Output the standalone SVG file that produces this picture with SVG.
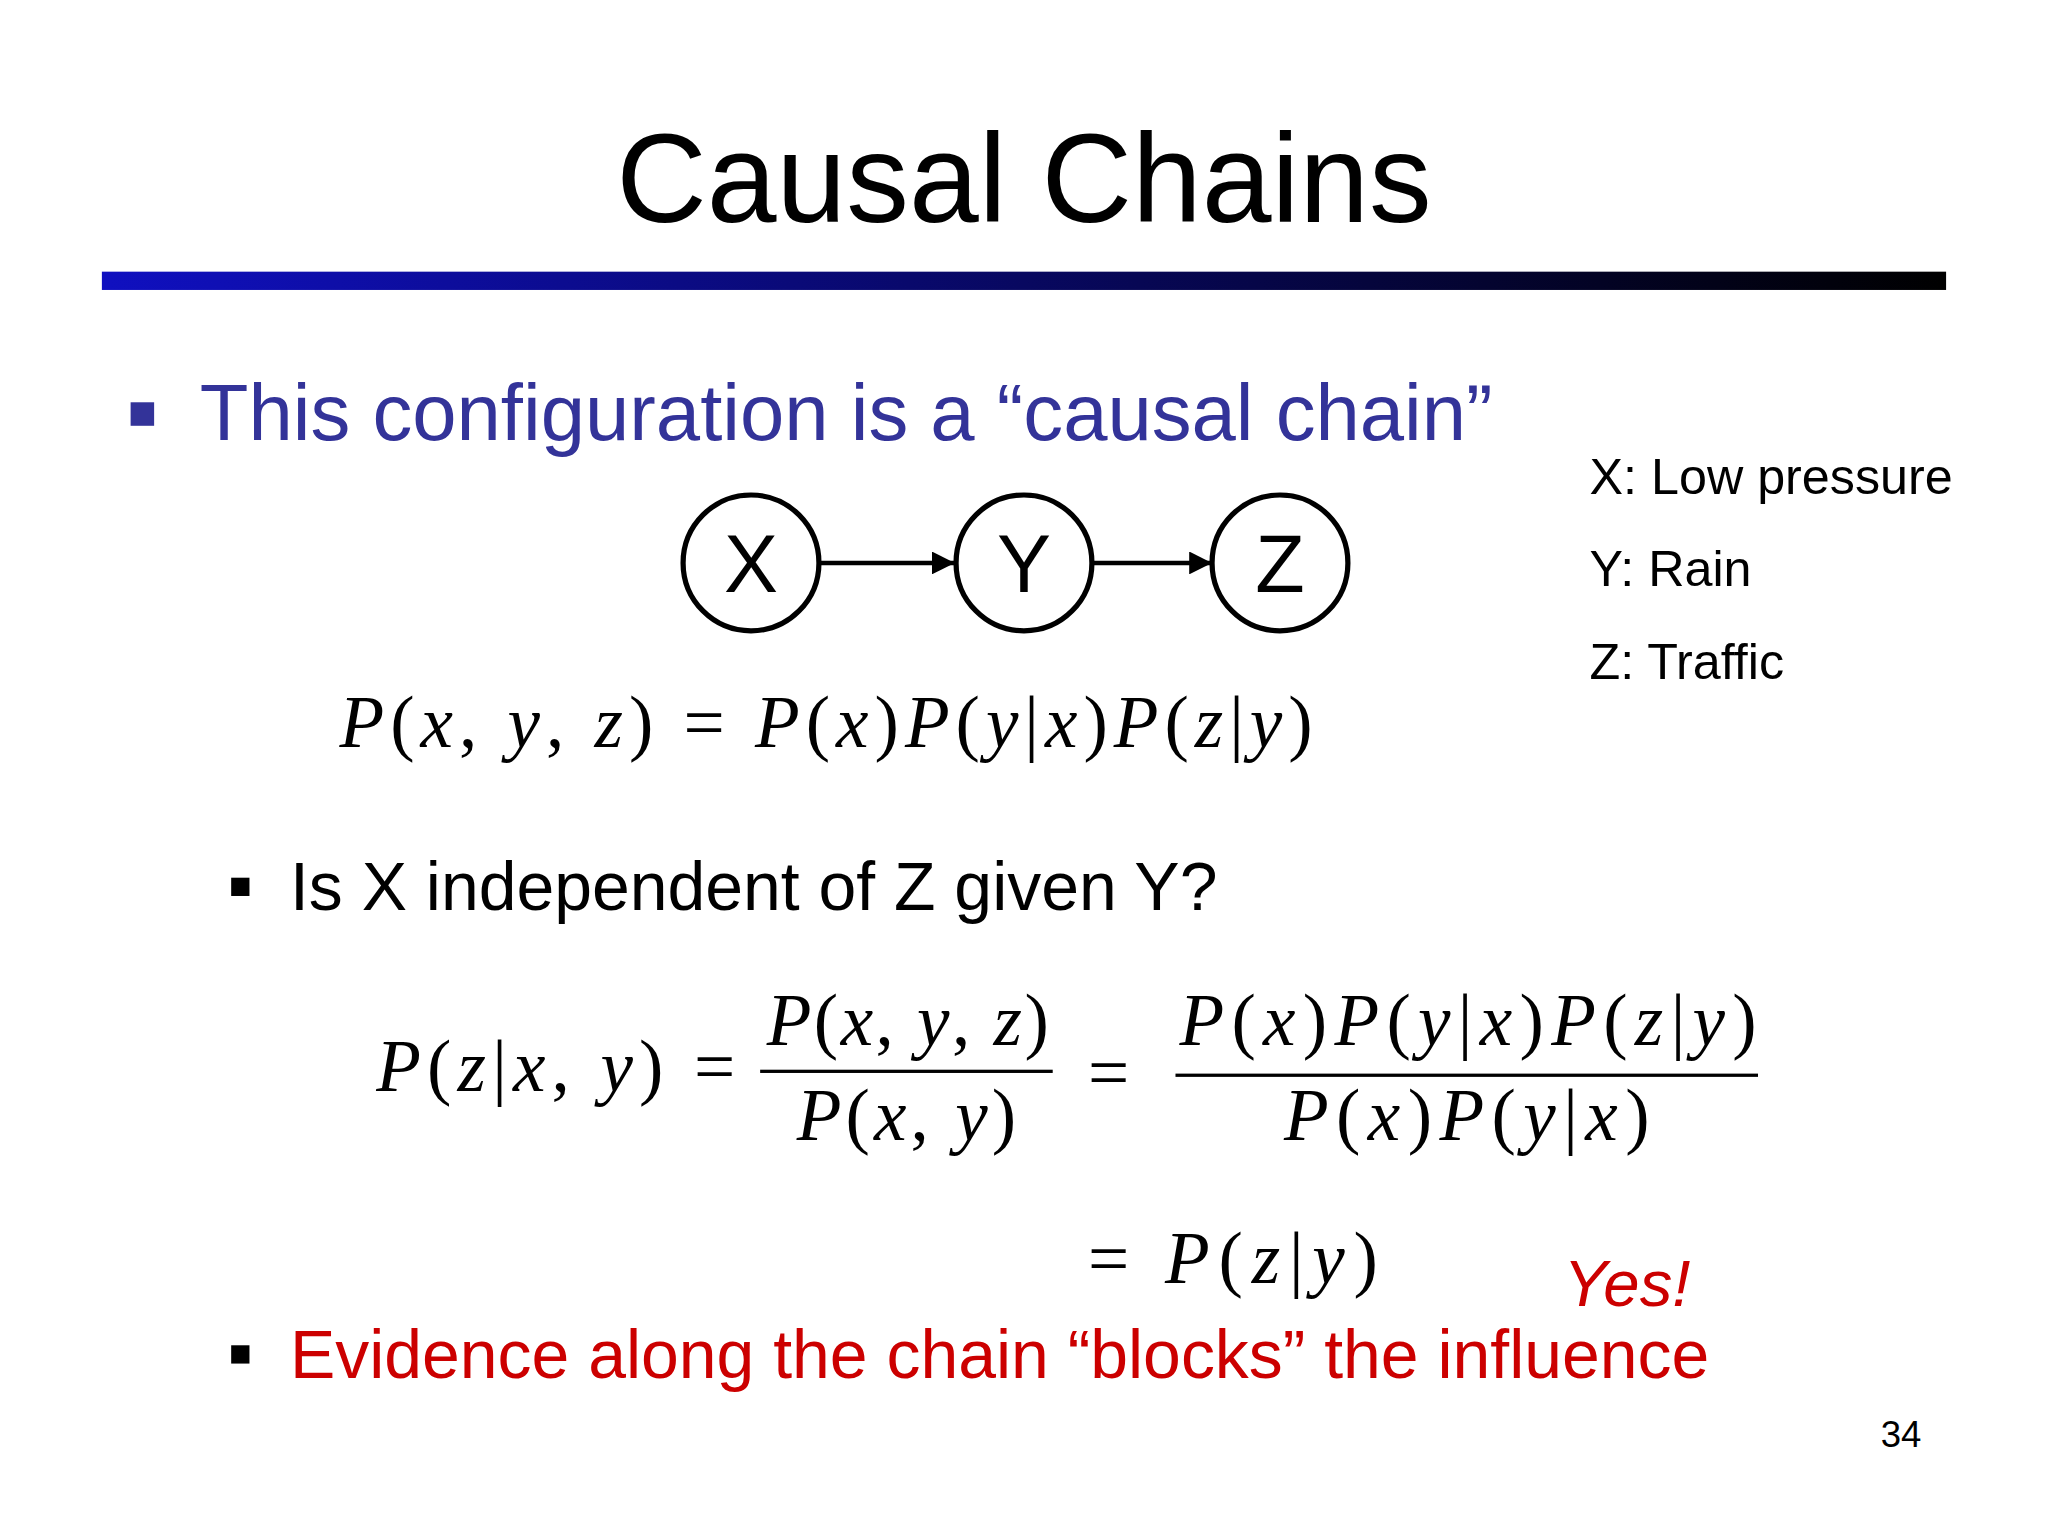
<svg xmlns="http://www.w3.org/2000/svg" width="2048" height="1536" viewBox="0 0 2048 1536">
<style>
.sans{font-family:"Liberation Sans",Arial,sans-serif}
.m{font-family:"Liberation Serif","Times New Roman",serif;font-size:56px;fill:#000}
.i{font-style:italic}
.node circle{fill:#fff;stroke:#000;stroke-width:4}
.node text{font-family:"Liberation Sans",Arial,sans-serif;font-size:62px;text-anchor:middle}
</style>
<defs>
<linearGradient id="bar" x1="0" x2="1" y1="0" y2="0"><stop offset="0" stop-color="#1010c0"/><stop offset="1" stop-color="#000"/></linearGradient>
<marker id="ah" viewBox="0 0 10 10" refX="10" refY="5" markerWidth="5" markerHeight="5" orient="auto"><path d="M0,0L10,5L0,10z" fill="#000"/></marker>
</defs>
<rect width="2048" height="1536" fill="#fff"/>
<g transform="scale(1.3061)">
<text x="784" y="170" class="sans" font-size="96" text-anchor="middle">Causal Chains</text>
<rect x="78" y="208" width="1412" height="14" fill="url(#bar)"/>
<rect x="100" y="308" width="18" height="18" fill="#333399"/>
<text x="153" y="337" class="sans" font-size="61" fill="#333399">This configuration is a “causal chain”</text>
<g id="connectors" stroke="#000" stroke-width="3.5" marker-end="url(#ah)">
<line x1="627" y1="431" x2="731" y2="431"/>
<line x1="836" y1="431" x2="928" y2="431"/>
</g>
<g id="X" class="node"><circle cx="575" cy="431" r="52"/><text x="575" y="453">X</text></g>
<g id="Y" class="node"><circle cx="784" cy="431" r="52"/><text x="784" y="453">Y</text></g>
<g id="Z" class="node"><circle cx="980" cy="431" r="52"/><text x="980" y="453">Z</text></g>
<g class="sans" font-size="38.5">
<text x="1217" y="378">X: Low pressure</text>
<text x="1217" y="449">Y: Rain</text>
<text x="1217" y="520">Z: Traffic</text>
</g>
<text class="m" x="260" y="572" textLength="745" lengthAdjust="spacing"><tspan class="i">P</tspan>(<tspan class="i">x</tspan>, <tspan class="i">y</tspan>, <tspan class="i">z</tspan>) = <tspan class="i">P</tspan>(<tspan class="i">x</tspan>)<tspan class="i">P</tspan>(<tspan class="i">y</tspan>|<tspan class="i">x</tspan>)<tspan class="i">P</tspan>(<tspan class="i">z</tspan>|<tspan class="i">y</tspan>)</text>
<rect x="177" y="672" width="14" height="14" fill="#000"/>
<text x="222" y="697" class="sans" font-size="52">Is X independent of Z given Y?</text>
<text class="m" x="288" y="835" textLength="275" lengthAdjust="spacing"><tspan class="i">P</tspan>(<tspan class="i">z</tspan>|<tspan class="i">x</tspan>, <tspan class="i">y</tspan>) =</text>
<text class="m" x="587" y="800" textLength="216" lengthAdjust="spacing"><tspan class="i">P</tspan>(<tspan class="i">x</tspan>, <tspan class="i">y</tspan>, <tspan class="i">z</tspan>)</text>
<rect x="582" y="819" width="224" height="2.5" fill="#000"/>
<text class="m" x="610" y="873" textLength="168" lengthAdjust="spacing"><tspan class="i">P</tspan>(<tspan class="i">x</tspan>, <tspan class="i">y</tspan>)</text>
<text class="m" x="833" y="840" font-size="64">=</text>
<text class="m" x="903" y="800" textLength="442" lengthAdjust="spacing"><tspan class="i">P</tspan>(<tspan class="i">x</tspan>)<tspan class="i">P</tspan>(<tspan class="i">y</tspan>|<tspan class="i">x</tspan>)<tspan class="i">P</tspan>(<tspan class="i">z</tspan>|<tspan class="i">y</tspan>)</text>
<rect x="900" y="822" width="446" height="2.5" fill="#000"/>
<text class="m" x="983" y="873" textLength="280" lengthAdjust="spacing"><tspan class="i">P</tspan>(<tspan class="i">x</tspan>)<tspan class="i">P</tspan>(<tspan class="i">y</tspan>|<tspan class="i">x</tspan>)</text>
<text class="m" x="833" y="982" textLength="222" lengthAdjust="spacing">= <tspan class="i">P</tspan>(<tspan class="i">z</tspan>|<tspan class="i">y</tspan>)</text>
<text x="1197" y="1000" class="sans" font-size="50" font-style="italic" fill="#cc0000">Yes!</text>
<rect x="177" y="1030" width="14" height="14" fill="#000"/>
<text x="222" y="1055" class="sans" font-size="52" fill="#cc0000">Evidence along the chain “blocks” the influence</text>
<text x="1440" y="1108" class="sans" font-size="28">34</text>
</g>
</svg>
